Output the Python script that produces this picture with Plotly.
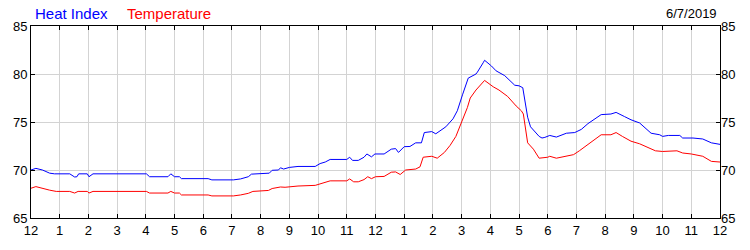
import plotly.graph_objects as go

# Hours since midnight and readings (°F)
hi_hours = [0.0, 0.17, 0.4, 0.65, 0.82, 1.35, 1.52, 1.6, 1.66, 1.96, 2.02, 2.16, 4.02, 4.13, 4.77, 4.87, 5.0, 5.17, 5.24,
            6.17, 6.3, 7.05, 7.3, 7.57, 7.68, 8.3, 8.4, 8.62, 8.69, 8.8, 9.0, 9.3, 9.9, 10.07, 10.25, 10.42, 11.0, 11.1,
            11.2, 11.4, 11.6, 11.7, 11.86, 11.98, 12.3, 12.55, 12.7, 12.8, 13.0, 13.2, 13.4, 13.6, 13.7, 13.96, 14.1,
            14.25, 14.45, 14.7, 14.85, 15.03, 15.23, 15.5, 15.55, 15.75, 15.8, 16.04, 16.2, 16.5, 16.85, 17.0, 17.13,
            17.3, 17.4, 17.7, 17.8, 17.9, 18.07, 18.3, 18.45, 18.65, 18.94, 19.17, 19.4, 19.63, 19.86, 20.2, 20.38,
            20.67, 20.9, 21.2, 21.4, 21.6, 21.9, 22.0, 22.2, 22.6, 22.7, 23.06, 23.4, 23.7, 24.0]
hi_values = [70.0, 70.17, 70.0, 69.67, 69.6, 69.6, 69.27, 69.3, 69.6, 69.6, 69.3, 69.6, 69.6, 69.3, 69.3, 69.6, 69.3, 69.3, 69.1,
             69.1, 68.97, 68.97, 69.07, 69.3, 69.57, 69.67, 69.97, 70.0, 70.23, 70.1, 70.27, 70.37, 70.37, 70.67, 70.83, 71.1, 71.1, 71.33,
             71.0, 71.0, 71.33, 71.67, 71.37, 71.67, 71.67, 72.17, 72.23, 71.83, 72.43, 72.45, 72.83, 72.83, 73.9, 74.0, 73.77,
             74.1, 74.5, 75.33, 76.17, 77.83, 79.57, 80.0, 80.2, 81.17, 81.43, 80.83, 80.33, 79.83, 78.83, 78.77, 78.57,
             75.5, 74.5, 73.5, 73.33, 73.4, 73.6, 73.43, 73.6, 73.83, 73.9, 74.23, 74.83, 75.27, 75.77, 75.83, 76.0,
             75.57, 75.23, 74.9, 74.33, 73.83, 73.67, 73.5, 73.6, 73.6, 73.33, 73.33, 73.23, 72.83, 72.67]

temp_hours = [0.0, 0.17, 0.65, 0.88, 1.35, 1.52, 1.64, 1.96, 2.02, 2.16, 4.02, 4.13, 4.77, 4.87, 5.0, 5.17, 5.24, 6.17, 6.3,
              7.05, 7.3, 7.57, 7.73, 8.27, 8.4, 8.69, 8.85, 9.3, 9.9, 10.1, 10.25, 10.42, 11.0, 11.1, 11.24, 11.4, 11.6,
              11.73, 11.86, 12.0, 12.3, 12.55, 12.7, 12.86, 13.05, 13.4, 13.55, 13.66, 13.96, 14.15, 14.4, 14.6, 14.8,
              15.0, 15.2, 15.3, 15.5, 15.8, 16.1, 16.3, 16.6, 16.9, 17.08, 17.15, 17.3, 17.5, 17.7, 18.0, 18.07, 18.3,
              18.6, 18.9, 19.1, 19.4, 19.63, 19.86, 20.2, 20.38, 20.6, 20.9, 21.2, 21.5, 21.75, 22.0, 22.5, 22.7, 23.0,
              23.4, 23.7, 24.0]
temp_values = [68.1, 68.27, 67.9, 67.77, 67.77, 67.6, 67.77, 67.77, 67.6, 67.77, 67.77, 67.6, 67.6, 67.77, 67.6, 67.6, 67.4, 67.4, 67.3,
               67.3, 67.4, 67.57, 67.77, 67.87, 68.07, 68.23, 68.2, 68.33, 68.4, 68.57, 68.7, 68.87, 68.87, 69.07, 68.77, 68.77, 69.0,
               69.3, 69.1, 69.3, 69.33, 69.77, 69.8, 69.53, 70.0, 70.1, 70.33, 71.33, 71.43, 71.23, 71.83, 72.57, 73.5,
               75.0, 76.5, 77.5, 78.33, 79.33, 78.67, 78.33, 77.67, 76.67, 76.17, 75.83, 72.83, 72.17, 71.23, 71.33, 71.43, 71.23,
               71.43, 71.6, 72.0, 72.67, 73.23, 73.67, 73.67, 73.9, 73.5, 73.0, 72.73, 72.33, 72.0, 71.93, 72.0, 71.77, 71.67,
               71.43, 70.9, 70.83]

tick_hours = list(range(0, 25))
tick_labels = ["12", "1", "2", "3", "4", "5", "6", "7", "8", "9", "10", "11",
               "12", "1", "2", "3", "4", "5", "6", "7", "8", "9", "10", "11", "12"]
y_ticks = [65, 70, 75, 80, 85]
series_names = ["Heat Index", "Temperature"]
date_label = "6/7/2019"

FONT = "Liberation Sans, Arial, sans-serif"

fig = go.Figure()
fig.add_trace(go.Scatter(x=hi_hours, y=hi_values, mode="lines", name=series_names[0],
                         line=dict(color="#0000ff", width=1)))
fig.add_trace(go.Scatter(x=temp_hours, y=temp_values, mode="lines", name=series_names[1],
                         line=dict(color="#ff0000", width=1)))
# invisible helper so the right-hand axis renders its labels
fig.add_trace(go.Scatter(x=[0, 24], y=[65, 85], yaxis="y2", mode="markers",
                         marker=dict(opacity=0), hoverinfo="skip", showlegend=False))

fig.update_layout(
    width=750, height=250,
    margin=dict(l=31, r=30, t=26, b=25),
    paper_bgcolor="white", plot_bgcolor="white",
    showlegend=False,
    font=dict(family=FONT, size=13, color="black"),
    xaxis=dict(range=[0, 24], tickmode="array", tickvals=tick_hours, ticktext=tick_labels,
               showgrid=True, gridcolor="#d3d3d3", gridwidth=1,
               showline=True, linecolor="black", linewidth=1, mirror="ticks",
               ticks="inside", ticklen=4, tickcolor="black", zeroline=False,
               tickfont=dict(family=FONT, size=13)),
    yaxis=dict(range=[65, 85], tickmode="array", tickvals=y_ticks,
               showgrid=True, gridcolor="#d3d3d3", gridwidth=1,
               showline=True, linecolor="black", linewidth=1, mirror=True,
               ticks="inside", ticklen=4, tickcolor="black", zeroline=False,
               tickfont=dict(family=FONT, size=13)),
    yaxis2=dict(range=[65, 85], tickmode="array", tickvals=y_ticks, overlaying="y", side="right",
                showgrid=False, showline=False, ticks="inside", ticklen=4, tickcolor="black", zeroline=False,
                tickfont=dict(family=FONT, size=13)),
)

fig.add_annotation(x=0, y=1, xref="paper", yref="paper", xshift=2, yshift=13, text=series_names[0], showarrow=False,
                   xanchor="left", yanchor="middle", font=dict(family=FONT, size=15, color="#0000ff"))
fig.add_annotation(x=0, y=1, xref="paper", yref="paper", xshift=94, yshift=13, text=series_names[1], showarrow=False,
                   xanchor="left", yanchor="middle", font=dict(family=FONT, size=15, color="#ff0000"))
fig.add_annotation(x=1, y=1, xref="paper", yref="paper", xshift=-1, yshift=13, text=date_label, showarrow=False,
                   xanchor="right", yanchor="middle", font=dict(family=FONT, size=13, color="black"))

fig.write_html("out.html")
